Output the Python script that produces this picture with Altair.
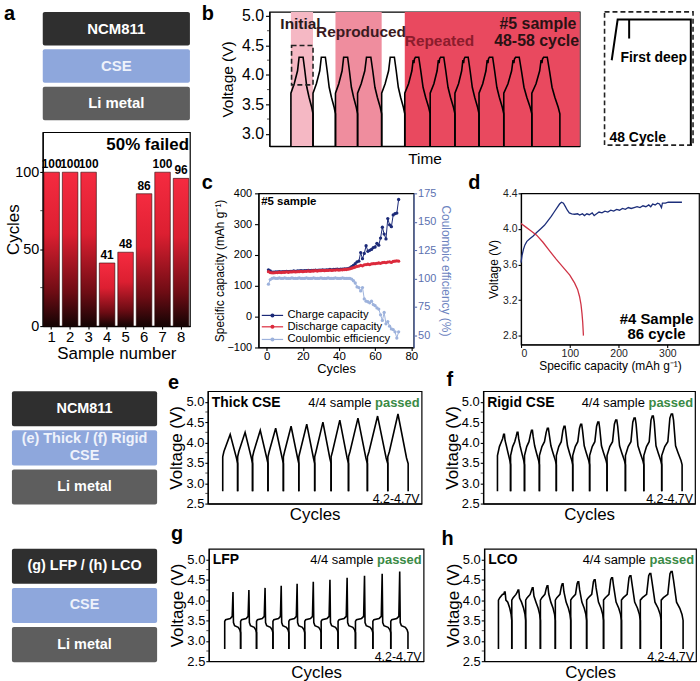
import altair as alt
import pandas as pd

FONT = "Liberation Sans"

# ---------------- panel a ----------------
SAMPLES = ["1", "2", "3", "4", "5", "6", "7", "8"]
CYCLES_A = [100, 100, 100, 41, 48, 86, 100, 96]
A_MINOR = [25, 75]

# ---------------- cell stacks ----------------
STACK_A = ["NCM811", "CSE", "Li metal"]
STACK_E = ["NCM811", "(e) Thick / (f) Rigid\nCSE", "Li metal"]
STACK_G = ["(g) LFP / (h) LCO", "CSE", "Li metal"]
STACK_FILL = ["#2f2f2f", "#8ea7dc", "#5e5e5e"]
STACK_TEXT = ["#ffffff", "#eef2fb", "#ffffff"]

# ---------------- panel b ----------------
B_STARTS = [6.5, 13.2, 20.0, 26.7, 34.0, 41.0, 48.7, 56.2, 63.5, 71.0, 79.5, 88.0]
B_PEAKS = [4.30, 4.30, 4.30, 4.30, 4.30, 4.30, 4.30, 4.30, 4.30, 4.30, 4.30]
B_KIND = ["s", "s", "s", "s", "s", "r", "r", "r", "r", "r", "r"]
B_SHAPE_S = [(0.0, 2.79, False), (0.0, 3.69, False), (0.15, 3.85, False), (0.30, 4.07, False),
             (0.37, 0.0, True), (0.55, 0.0, True), (0.63, 4.07, False), (0.72, 3.79, False),
             (0.82, 3.62, False), (0.94, 3.45, False), (1.0, 3.34, False), (1.0, 2.79, False)]
B_SHAPE_R = [(0.0, 2.79, False), (0.0, 3.69, False), (0.15, 3.85, False), (0.28, 4.07, False),
             (0.33, -0.05, True), (0.36, -0.10, True), (0.38, -0.03, True), (0.42, 0.0, True),
             (0.55, 0.0, True), (0.63, 4.07, False), (0.72, 3.79, False), (0.82, 3.62, False),
             (0.94, 3.45, False), (1.0, 3.34, False), (1.0, 2.79, False)]
B_REGION_NAME = ["Initial", "Reproduced", "Repeated"]
B_REGION_T0 = [6.5, 20.0, 41.0]
B_REGION_T1 = [13.2, 34.0, 94.0]
B_REGION_COLOR = ["#f5b8c4", "#ef8d9e", "#e9495f"]
B_MINOR = [3.25, 3.75, 4.25, 4.75]

# inset of b
INSET_X = [[0.081, 0.148, 0.975, 0.975], [0.278, 0.278]]
INSET_Y = [[0.637, 0.942, 0.942, 0.0], [0.942, 0.80]]

# ---------------- panel c ----------------
C_CYC = list(range(1, 74))
C_DIS = [146, 143, 142, 142, 143, 143, 144, 143, 144, 144, 145, 144, 145, 145, 146, 145, 146, 146,
         147, 146, 147, 147, 148, 147, 148, 148, 149, 148, 149, 149, 150, 149, 150, 150, 151, 150,
         151, 151, 152, 151, 152, 152, 153, 153, 154, 155, 157, 159, 161, 163, 164, 166, 165, 168,
         169, 170, 169, 171, 172, 172, 173, 174, 173, 175, 176, 175, 177, 178, 176, 179, 180, 181, 180]
C_CHARGE = [152, 148, 144, 144, 145, 145, 146, 145, 146, 146, 147, 146, 147, 147, 148, 147, 148, 148,
            149, 148, 149, 149, 150, 149, 150, 150, 151, 150, 151, 151, 152, 151, 152, 152, 153, 152,
            153, 153, 154, 153, 154, 154, 155, 155, 156, 158, 162, 166, 172, 178, 180, 208, 188, 205,
            230, 212, 215, 218, 224, 226, 238, 232, 255, 290, 268, 252, 318, 298, 292, 330, 334, 336, 380]
C_CE = [95, 99, 100, 100.5, 100, 100, 100.5, 100, 100, 100.5, 100, 100, 100, 100.5, 100, 100, 100, 100.5,
        100, 100, 100, 100.5, 100, 100, 100, 100.5, 100, 100, 100, 100.5, 100, 100, 100, 100.5, 100, 100,
        100, 100.5, 100, 100, 100, 100.5, 100, 100, 100, 100, 99.5, 98, 96, 92.5, 92, 89, 92, 82,
        80, 79.5, 78.5, 80, 77, 76, 74, 73, 68, 63, 70, 60, 62, 58, 55.5, 55, 53, 47.5, 53]
C_LEG_NAME = ["Charge capacity", "Discharge capacity", "Coulombic efficiency"]
C_LEG_Y = [4, -33, -74]
C_COLORS = ["#1c2a78", "#dc2a3c", "#9db2dc"]

# ---------------- panel d ----------------
D_CH_X = [0, 2, 5, 8, 12, 18, 25, 32, 40, 48, 55, 62, 68, 74, 79, 83, 87, 91, 95, 99, 104, 110, 116,
          120, 126, 130, 135, 140, 146, 150, 155, 160, 166, 172, 178, 184, 190, 196, 202, 208, 214,
          220, 226, 232, 238, 244, 250, 256, 262, 266, 270, 275, 280, 284, 288, 290, 296, 302, 310, 320, 330]
D_CH_V = [3.62, 3.70, 3.77, 3.82, 3.86, 3.89, 3.92, 3.96, 4.00, 4.04, 4.09, 4.14, 4.19, 4.24, 4.28, 4.30,
          4.29, 4.25, 4.21, 4.18, 4.17, 4.165, 4.17, 4.155, 4.17, 4.15, 4.17, 4.16, 4.18, 4.15, 4.17, 4.19,
          4.18, 4.20, 4.19, 4.21, 4.20, 4.22, 4.21, 4.23, 4.22, 4.24, 4.23, 4.24, 4.25, 4.24, 4.26, 4.25,
          4.27, 4.25, 4.28, 4.27, 4.29, 4.28, 4.24, 4.29, 4.29, 4.30, 4.30, 4.30, 4.30]
D_DIS_X = [0, 10, 20, 32, 45, 59, 72, 86, 100, 110, 116, 120, 123, 125, 126.5, 128]
D_DIS_V = [4.06, 4.02, 3.98, 3.93, 3.85, 3.75, 3.66, 3.57, 3.48, 3.39, 3.32, 3.24, 3.15, 3.05, 2.95, 2.80]

# ---------------- panels e-h ----------------
PEAKS_EH = [4.20, 4.25, 4.30, 4.35, 4.40, 4.45, 4.50, 4.55, 4.60, 4.65, 4.70]
EH_MINOR = [2.75, 3.25, 3.75, 4.25, 4.75]
E_STARTS = [15, 30, 45, 60.5, 76, 91.5, 107.5, 124, 141.5, 160.5, 181, 201.5]
F_STARTS = [14.3, 27.5, 41.5, 56.5, 73.5, 90, 107, 124.5, 143, 161.5, 179.5, 200]
G_STARTS = [16, 32, 48, 64.5, 80.5, 96.5, 113, 130, 147.5, 165, 183, 200.3]
H_STARTS = [14.3, 27.7, 41.7, 56.5, 71.5, 87, 103, 120, 138, 157, 178, 200]
E_SHAPE = [(0, 2.8, False), (0, 3.65, False), (0.08, 3.78, False), (0.5, 0.0, True),
           (0.92, 3.62, False), (1.0, 3.48, False), (1.0, 2.8, False)]
F_SHAPE = [(0, 2.8, False), (0, 3.68, False), (0.15, 3.9, False), (0.3, 4.02, False), (0.4, -0.1, True),
           (0.47, 0.0, True), (0.53, 0.0, True), (0.58, -0.15, True), (0.68, 3.92, False),
           (0.8, 3.75, False), (0.95, 3.55, False), (1.0, 3.45, False), (1.0, 2.8, False)]
G_SHAPE = [(0, 2.8, False), (0, 3.48, False), (0.06, 3.52, False), (0.35, 3.55, False), (0.47, 3.6, False),
           (0.52, 0.0, True), (0.55, 3.45, False), (0.62, 3.37, False), (0.85, 3.33, False),
           (0.95, 3.27, False), (1.0, 3.2, False), (1.0, 2.8, False)]
H_SHAPE = [(0, 2.8, False), (0, 4.0, False), (0.1, 4.06, False), (0.3, 4.14, False), (0.4, -0.05, True),
           (0.45, 0.0, True), (0.5, 0.0, True), (0.56, -0.2, True), (0.7, 3.95, False),
           (0.85, 3.8, False), (0.95, 3.65, False), (1.0, 3.5, False), (1.0, 2.8, False)]


def cycle_frame(starts, peaks, shapes):
    rows = []
    for i, pk in enumerate(peaks):
        t0, t1 = starts[i], starts[i + 1]
        for j, (f, v, rel) in enumerate(shapes[i]):
            rows.append({"cycle": i, "k": j, "t": t0 + f * (t1 - t0), "v": pk + v if rel else v})
    return pd.DataFrame(rows)


def letter(ch, x, y):
    # panel letter, placed relative to the panel's plot area
    return alt.Chart(pd.DataFrame({"s": [ch]})).mark_text(
        font=FONT, fontSize=20, fontWeight="bold", align="left", baseline="alphabetic", color="black"
    ).encode(x=alt.value(x), y=alt.value(y), text="s:N")


def minor_ticks(field, yenc, values):
    # small outward ticks on the left axis at the minor values (same y scale as the panel)
    return alt.Chart(pd.DataFrame({field: values})).mark_tick(
        orient="horizontal", size=2.5, thickness=1, color="black").encode(y=yenc, x=alt.value(-1.25))


def spacer(w, h):
    df = pd.DataFrame({"a": [0.0], "b": [1.0]})
    s = alt.Scale(domain=[0, 1], nice=False, zero=False)
    return alt.Chart(df).mark_rect(opacity=0).encode(
        x=alt.X("a:Q", scale=s, axis=None), x2="b:Q", y=alt.Y("a:Q", scale=s, axis=None), y2="b:Q"
    ).properties(width=w, height=h, view=alt.ViewBackground(stroke="transparent"))


def stack_chart(labels, w, h, fs, extra=None):
    df = pd.DataFrame({"name": labels, "x0": [0.0] * 3, "x1": [1.0] * 3, "xm": [0.5] * 3,
                       "fill": STACK_FILL, "tc": STACK_TEXT,
                       "nl": [lab.count("\n") + 1 for lab in labels]})
    xs = alt.Scale(domain=[0, 1], nice=False, zero=False)
    y = alt.Y("name:N", sort=labels, axis=None, scale=alt.Scale(paddingInner=0.105, paddingOuter=0))
    rect = alt.Chart(df).mark_rect(cornerRadius=2).encode(
        x=alt.X("x0:Q", scale=xs, axis=None), x2="x1:Q", y=y, fill=alt.Fill("fill:N", scale=None))
    enc = dict(x=alt.X("xm:Q", scale=xs, axis=None), y=y, text="name:N", color=alt.Color("tc:N", scale=None))
    txt1 = alt.Chart(df).transform_filter("datum.nl == 1").mark_text(
        font=FONT, fontSize=fs, fontWeight="bold").encode(**enc)
    txt2 = alt.Chart(df).transform_filter("datum.nl == 2").mark_text(
        font=FONT, fontSize=fs, fontWeight="bold", lineBreak="\n", lineHeight=17, dy=-8.5).encode(**enc)
    layers = [rect, txt1, txt2]
    if extra is not None:
        layers.append(extra)
    return alt.layer(*layers).properties(width=w, height=h, view=alt.ViewBackground(stroke="transparent"))


# ================= panel a =================
df_a = pd.DataFrame({"sample": SAMPLES, "cycles": CYCLES_A})
grad = alt.LinearGradient(gradient="linear", x1=0, x2=0, y1=0, y2=1, stops=[
    alt.GradientStop(offset=0, color="#f52b40"), alt.GradientStop(offset=0.4, color="#dc1f31"),
    alt.GradientStop(offset=0.78, color="#6e0c14"), alt.GradientStop(offset=1, color="#140404")])
xa = alt.X("sample:N", sort=SAMPLES, scale=alt.Scale(paddingInner=0.16, paddingOuter=0.06),
           axis=alt.Axis(labelAngle=0, title="Sample number", labelFontSize=15, titleFontSize=17,
                         tickSize=3, labelPadding=0, titlePadding=2))
ya = alt.Y("cycles:Q", scale=alt.Scale(domain=[0, 126], nice=False),
           axis=alt.Axis(values=[0, 50, 100], title="Cycles", labelFontSize=14.5, titleFontSize=17,
                         tickSize=3, labelPadding=1, titlePadding=-8))
bars = alt.Chart(df_a).mark_bar(fill=grad, stroke="#2a0505", strokeWidth=0.6).encode(x=xa, y=ya)
bar_lbl = alt.Chart(df_a).mark_text(font=FONT, fontSize=12, fontWeight="bold", baseline="bottom",
                                    dy=-1).encode(x=xa, y=ya, text="cycles:Q")
fail = alt.Chart(pd.DataFrame({"sample": ["8"], "cycles": [117.6], "s": ["50% failed"]})).mark_text(
    font=FONT, fontSize=17, fontWeight="bold", align="right", baseline="middle", dx=8).encode(
    x=xa, y=ya, text="s:N")
bar_a = alt.layer(bars, bar_lbl, fail, minor_ticks("cycles", ya, A_MINOR)).properties(width=148, height=195)
stack_a = stack_chart(STACK_A, 148, 109, 15, letter("a", -39, 8))

# ================= panel b =================
shapes_b = [B_SHAPE_S if k == "s" else B_SHAPE_R for k in B_KIND]
df_b = cycle_frame(B_STARTS, B_PEAKS, shapes_b)
xb = alt.X("t:Q", scale=alt.Scale(domain=[0, 94], nice=False, zero=False),
           axis=alt.Axis(title="Time", labels=False, ticks=False, titleFontSize=15.5, titlePadding=5))
yb = alt.Y("v:Q", scale=alt.Scale(domain=[2.79, 5.07], nice=False, zero=False),
           axis=alt.Axis(values=[3.0, 3.5, 4.0, 4.5, 5.0], format=".1f", title="Voltage (V)",
                         labelFontSize=16, titleFontSize=15.5, tickSize=4, labelPadding=2, titlePadding=6))
df_bg = pd.DataFrame({"t": B_REGION_T0, "t2": B_REGION_T1, "v": [2.79] * 3, "v2": [5.07] * 3,
                      "c": B_REGION_COLOR})
bg = alt.Chart(df_bg).mark_rect().encode(x=xb, x2="t2:Q", y=yb, y2="v2:Q", color=alt.Color("c:N", scale=None))
dbox = alt.Chart(pd.DataFrame({"t": [6.7], "t2": [13.2], "v": [3.83], "v2": [4.50]})).mark_rect(
    fill="transparent", stroke="#222", strokeWidth=1.6, strokeDash=[5, 3]).encode(x=xb, x2="t2:Q", y=yb, y2="v2:Q")
lines_b = alt.Chart(df_b).mark_line(color="black", strokeWidth=1.6).encode(
    x=xb, y=yb, detail="cycle:N", order="k:Q")
tb_c = pd.DataFrame({"t": [9.4, 27.75, 51.5], "v": [4.87, 4.72, 4.58], "s": B_REGION_NAME,
                     "c": ["#2a1a1a", "#3a1a1e", "#8c1c2c"]})
txt_b = alt.Chart(tb_c).mark_text(font=FONT, fontSize=15.5, fontWeight="bold").encode(
    x=xb, y=yb, text="s:N", color=alt.Color("c:N", scale=None))
tb_r = pd.DataFrame({"t": [93.0, 93.8], "v": [4.87, 4.58], "s": ["#5 sample", "48-58 cycle"]})
txt_b2 = alt.Chart(tb_r).mark_text(font=FONT, fontSize=16, fontWeight="bold", align="right",
                                   color="#2a1214").encode(x=xb, y=yb, text="s:N")
b_chart = alt.layer(bg, lines_b, dbox, txt_b, txt_b2, letter("b", -68, 8),
                    minor_ticks("v", yb, B_MINOR)).properties(width=312, height=135)

# inset
rows = []
for i, (xs_, ys_) in enumerate(zip(INSET_X, INSET_Y)):
    for j, (xx, yy) in enumerate(zip(xs_, ys_)):
        rows.append({"seg": i, "k": j, "x": xx, "y": yy})
df_in = pd.DataFrame(rows)
xi = alt.X("x:Q", scale=alt.Scale(domain=[0, 1], nice=False), axis=None)
yi = alt.Y("y:Q", scale=alt.Scale(domain=[0, 1], nice=False), axis=None)
in_lines = alt.Chart(df_in).mark_line(color="black", strokeWidth=2).encode(x=xi, y=yi, detail="seg:N", order="k:Q")
in_txt = alt.Chart(pd.DataFrame({"x": [0.18, 0.056], "y": [0.657, 0.054], "s": ["First deep", "48 Cycle"]})).mark_text(
    font=FONT, fontSize=14, fontWeight="bold", align="left", baseline="middle").encode(x=xi, y=yi, text="s:N")
inset = alt.layer(in_lines, in_txt).properties(
    width=89, height=134, view=alt.ViewBackground(stroke="#222", strokeDash=[5, 3], strokeWidth=1.6))

# ================= panel c =================
xc = alt.X("cyc:Q", scale=alt.Scale(domain=[-4.5, 81.3], nice=False, zero=False),
           axis=alt.Axis(values=[0, 20, 40, 60, 80], title="Cycles", labelFontSize=11.5, titleFontSize=13,
                         tickSize=3, labelPadding=0, titlePadding=1))
yc = alt.Y("val:Q", scale=alt.Scale(domain=[-100, 400], nice=False, zero=False),
           axis=alt.Axis(values=[-100, 0, 100, 200, 300, 400], title="Specific capacity (mAh g⁻¹)",
                         labelFontSize=11, titleFontSize=12, tickSize=4, labelPadding=3, titlePadding=0))
ycr = alt.Y("val:Q", scale=alt.Scale(domain=[39.2, 175], nice=False, zero=False),
            axis=alt.Axis(orient="right", values=[50, 75, 100, 125, 150, 175], title="Coulombic efficiency (%)",
                          labelFontSize=11, titleFontSize=12, tickSize=3, labelPadding=1, titlePadding=3,
                          labelColor="#5b70b0", titleColor="#6d84c0", tickColor="#5b70b0", domainColor="#5b70b0"))
df_ch = pd.DataFrame({"cyc": C_CYC, "val": C_CHARGE})
df_di = pd.DataFrame({"cyc": C_CYC, "val": C_DIS})
df_ce = pd.DataFrame({"cyc": C_CYC, "val": C_CE})


def series(df, color, y):
    ln = alt.Chart(df).mark_line(color=color, strokeWidth=1).encode(x=xc, y=y)
    pt = alt.Chart(df).mark_point(color=color, filled=True, size=11, opacity=1).encode(x=xc, y=y)
    return [ln, pt]


leg_rows = []
for i, yv in enumerate(C_LEG_Y):
    leg_rows.append({"cyc": -2.7, "val": yv, "sid": i, "c": C_COLORS[i]})
    leg_rows.append({"cyc": 9.1, "val": yv, "sid": i, "c": C_COLORS[i]})
df_leg = pd.DataFrame(leg_rows)
leg_ln = alt.Chart(df_leg).mark_line(strokeWidth=1.2).encode(
    x=xc, y=yc, detail="sid:N", color=alt.Color("c:N", scale=None))
df_legp = pd.DataFrame({"cyc": [3.2] * 3, "val": C_LEG_Y, "c": C_COLORS})
leg_pt = alt.Chart(df_legp).mark_point(filled=True, size=16, opacity=1).encode(
    x=xc, y=yc, color=alt.Color("c:N", scale=None))
df_legt = pd.DataFrame({"cyc": [11.5] * 3, "val": C_LEG_Y, "s": C_LEG_NAME})
leg_t = alt.Chart(df_legt).mark_text(font=FONT, fontSize=11.3, align="left", baseline="middle").encode(
    x=xc, y=yc, text="s:N")
c_tag = alt.Chart(pd.DataFrame({"cyc": [-3.0], "val": [372], "s": ["#5 sample"]})).mark_text(
    font=FONT, fontSize=11.5, fontWeight="bold", align="left", baseline="middle").encode(x=xc, y=yc, text="s:N")
left_c = alt.layer(*series(df_ch, C_COLORS[0], yc), *series(df_di, C_COLORS[1], yc), leg_ln, leg_pt, leg_t,
                   c_tag, letter("c", -57, -4))
right_c = alt.layer(*series(df_ce, C_COLORS[2], ycr))
c_chart = alt.layer(left_c, right_c).resolve_scale(y="independent").properties(width=156, height=155)

# ================= panel d =================
xd = alt.X("cap:Q", scale=alt.Scale(domain=[0, 365], nice=False, zero=False),
           axis=alt.Axis(values=[0, 100, 200, 300], title="Specific capacity (mAh g⁻¹)", labelFontSize=10.5,
                         titleFontSize=12, tickSize=3, labelPadding=1, titlePadding=2, labelColor="#222"))
yd = alt.Y("v:Q", scale=alt.Scale(domain=[2.7, 4.4], nice=False, zero=False),
           axis=alt.Axis(values=[2.8, 3.2, 3.6, 4.0, 4.4], format=".1f", title="Voltage (V)", labelFontSize=10.5,
                         titleFontSize=12, tickSize=3, labelPadding=1, titlePadding=2, labelColor="#222"))
df_dch = pd.DataFrame({"cap": D_CH_X, "v": D_CH_V, "k": list(range(len(D_CH_X)))})
df_ddi = pd.DataFrame({"cap": D_DIS_X, "v": D_DIS_V, "k": list(range(len(D_DIS_X)))})
d_ch = alt.Chart(df_dch).mark_line(color="#1c2e7a", strokeWidth=1.3).encode(x=xd, y=yd, order="k:Q")
d_di = alt.Chart(df_ddi).mark_line(color="#cf3345", strokeWidth=1.3).encode(x=xd, y=yd, order="k:Q")
d_txt = alt.Chart(pd.DataFrame({"cap": [278, 278], "v": [2.99, 2.815], "s": ["#4 Sample", "86 cycle"]})).mark_text(
    font=FONT, fontSize=15, fontWeight="bold", align="center", baseline="middle").encode(x=xd, y=yd, text="s:N")
d_chart = alt.layer(d_ch, d_di, d_txt, letter("d", -53, -4)).properties(width=179, height=152)


# ================= panels e-h =================
def volt_panel(starts, shape, W, H, name, let):
    df = cycle_frame(starts, PEAKS_EH, [shape] * len(PEAKS_EH))
    x = alt.X("t:Q", scale=alt.Scale(domain=[0, W], nice=False, zero=False),
              axis=alt.Axis(title="Cycles", labels=False, ticks=False, titleFontSize=17, titlePadding=3))
    y = alt.Y("v:Q", scale=alt.Scale(domain=[2.5, 5.26], nice=False, zero=False),
              axis=alt.Axis(values=[2.5, 3.0, 3.5, 4.0, 4.5, 5.0], format=".1f", title="Voltage (V)",
                            labelFontSize=13, titleFontSize=17, tickSize=3, labelPadding=1, titlePadding=0))
    ln = alt.Chart(df).mark_line(color="black", strokeWidth=1.6).encode(x=x, y=y, detail="cycle:N", order="k:Q")
    t1 = alt.Chart(pd.DataFrame({"t": [4], "v": [4.98], "s": [name]})).mark_text(
        font=FONT, fontSize=14, fontWeight="bold", align="left", baseline="middle").encode(x=x, y=y, text="s:N")
    t2 = alt.Chart(pd.DataFrame({"t": [W - 50.5], "v": [4.98], "s": ["4/4 sample"]})).mark_text(
        font=FONT, fontSize=13, align="right", baseline="middle").encode(x=x, y=y, text="s:N")
    t3 = alt.Chart(pd.DataFrame({"t": [W - 2], "v": [4.98], "s": ["passed"]})).mark_text(
        font=FONT, fontSize=13, fontWeight="bold", align="right", baseline="middle", color="#3a8a45").encode(
        x=x, y=y, text="s:N")
    t4 = alt.Chart(pd.DataFrame({"t": [W - 2], "v": [2.6], "s": ["4.2-4.7V"]})).mark_text(
        font=FONT, fontSize=12.5, align="right", baseline="middle").encode(x=x, y=y, text="s:N")
    return alt.layer(ln, t1, t2, t3, t4, let, minor_ticks("v", y, EH_MINOR)).properties(width=W, height=H)


e_chart = volt_panel(E_STARTS, E_SHAPE, 215, 113, "Thick CSE", letter("e", -40, -2))
f_chart = volt_panel(F_STARTS, F_SHAPE, 213, 113, "Rigid CSE", letter("f", -37, -5))
g_chart = volt_panel(G_STARTS, G_SHAPE, 216, 113, "LFP", letter("g", -38, -9))
h_chart = volt_panel(H_STARTS, H_SHAPE, 213, 113, "LCO", letter("h", -43, -4))
stack_e = stack_chart(STACK_E, 146, 114, 14.5)
stack_g = stack_chart(STACK_G, 146, 114, 14.5)

# ================= layout =================
colA = alt.vconcat(stack_a, bar_a, spacing=12, bounds="flush")
rowB = alt.hconcat(spacer(11, 1), b_chart, spacer(25, 1), inset, spacing=0, bounds="flush")
rowCD = alt.hconcat(c_chart, d_chart, spacing=108, bounds="flush")
colBCD = alt.vconcat(rowB, rowCD, spacing=4.5)
row1 = alt.hconcat(spacer(1, 1), alt.hconcat(colA, colBCD, spacing=10), spacing=-11)
row2 = alt.hconcat(stack_e, alt.hconcat(e_chart, f_chart, spacing=62, bounds="flush"), spacing=9)
row3 = alt.hconcat(stack_g, alt.hconcat(g_chart, h_chart, spacing=61, bounds="flush"), spacing=10)
rows23 = alt.vconcat(row2, row3, spacing=-0.5)

chart = alt.vconcat(row1, rows23, spacing=-7.5).properties(
    padding={"left": 3, "top": 1, "right": 0, "bottom": 0}, background="white"
).configure_view(stroke="black", strokeWidth=1.2).configure_axis(
    grid=False, domainColor="black", tickColor="black", labelColor="black", titleColor="black",
    labelFont=FONT, titleFont=FONT, titleFontWeight="normal", domainWidth=1.2, tickWidth=1.1
)

chart.save("out.html", embed_options={"renderer": "svg", "actions": False})
